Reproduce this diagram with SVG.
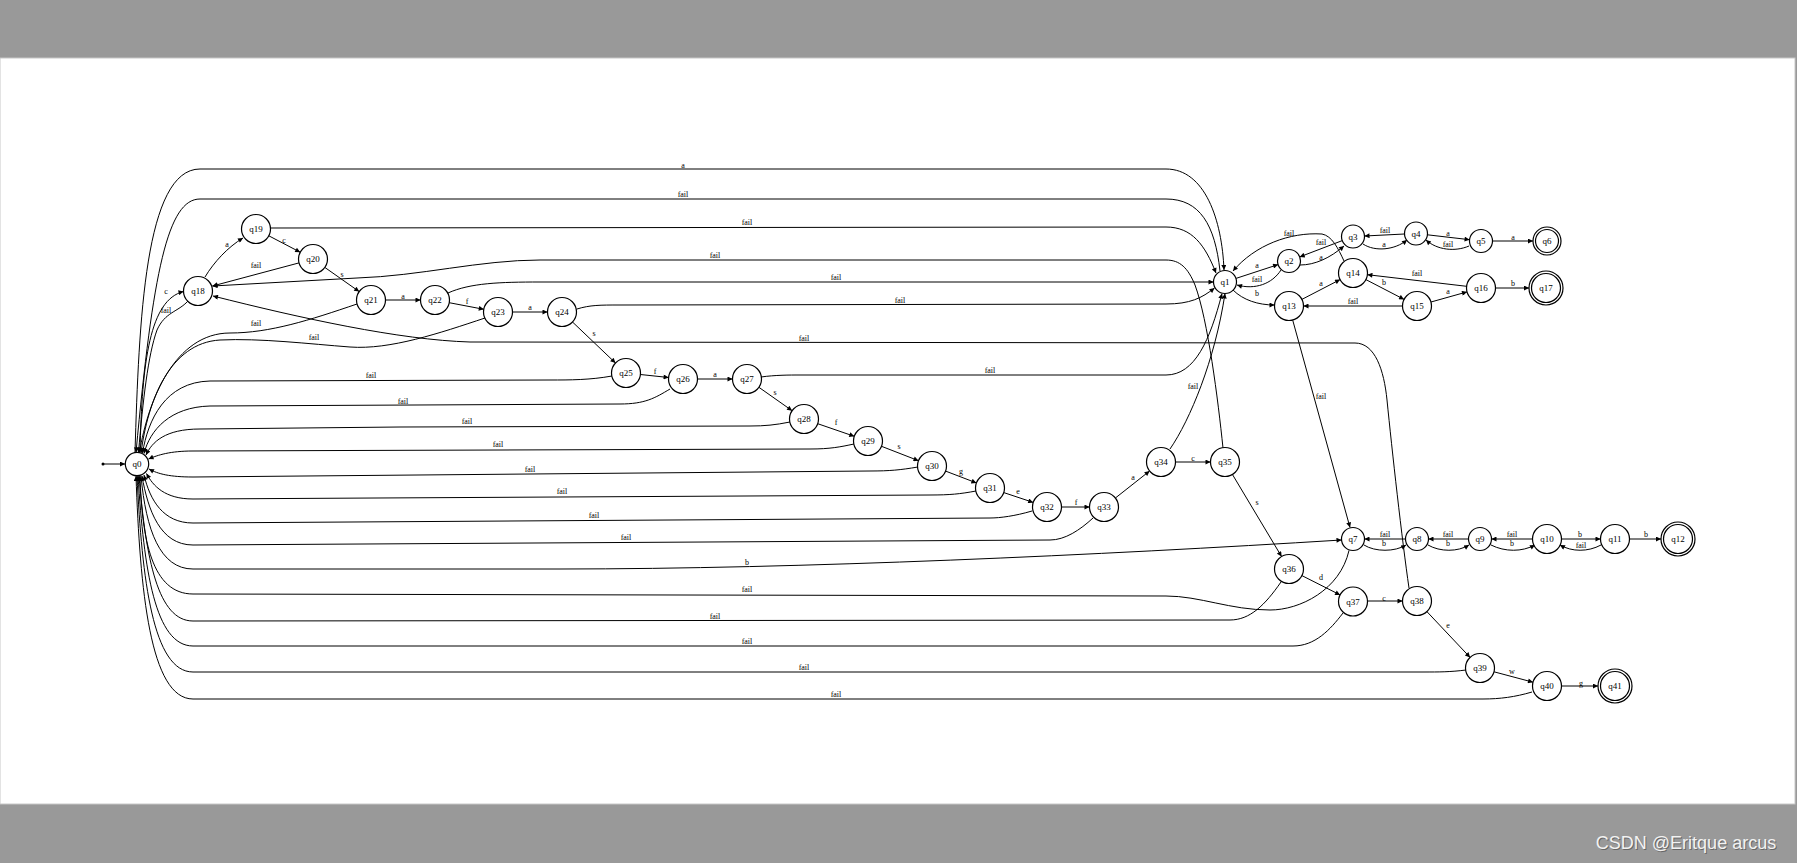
<svg xmlns="http://www.w3.org/2000/svg" width="1797" height="863" viewBox="0 0 1797 863">
<style>
.n circle{fill:#fff;stroke:#000;stroke-width:1.2}
.n text{font-family:"Liberation Serif",serif;font-size:9px;text-anchor:middle;fill:#000}
#edges path,#edges line{fill:none;stroke:#000;stroke-width:1;marker-end:url(#ah)}
#edges path.na{marker-end:none}
.lb text{font-family:"Liberation Serif",serif;font-size:8px;text-anchor:middle;fill:#000}
</style>
<defs>
<marker id="ah" viewBox="0 0 10 10" refX="10" refY="5" markerWidth="7" markerHeight="5" markerUnits="userSpaceOnUse" orient="auto"><path d="M0,0 L10,5 L0,10 z" fill="#000"/></marker>
</defs>
<rect x="0" y="0" width="1797" height="863" fill="#999"/>
<rect x="0" y="58" width="1795" height="746" fill="#fff" stroke="#c8c8c8" stroke-width="1"/>
<text x="1687" y="850" font-family="Liberation Sans,Arial,sans-serif" font-size="18" fill="#666" text-anchor="middle">CSDN @Eritque arcus</text>
<text x="1686" y="849" font-family="Liberation Sans,Arial,sans-serif" font-size="18" fill="#f2f2f2" text-anchor="middle">CSDN @Eritque arcus</text>

<g id="edges">
<circle cx="103" cy="464" r="1.5" fill="#000"/>
<line x1="103" y1="464" x2="125" y2="464"/>
<!-- q0 a q1 -->
<path d="M135 452.5 C139 320 145 169 200 169 L1166 169 C1205 169 1222 220 1224 270"/>
<!-- q1 fail q0 -->
<path d="M1220 271 C1215 225 1200 199 1166 199 L200 199 C168 199 153 270 136 452.5"/>
<!-- q19 fail q1 -->
<path d="M270 228 L1166 227 C1192 227 1205 245 1216 273"/>
<!-- q35 fail q18 -->
<path d="M1223 448 C1218 400 1208 320 1195 285 C1188 268 1180 260 1166 260 L540 260 C480 260 420 276 357 278 L212.5 286"/>
<!-- q22 fail q1 -->
<path d="M448 293 C470 283 500 282 540 282 L1213.5 282"/>
<!-- q24 fail q1 -->
<path d="M577 309 C590 305 600 305 620 305 L1166 304 C1190 304 1202 298 1214.5 288"/>
<!-- q38 fail q18 -->
<path d="M1409 588 C1402 540 1392 450 1387 400 C1384 370 1375 343 1355 343 L470 342 C400 340 300 318 213 296"/>
<!-- q27 fail q1 -->
<path d="M761 377 C775 375 790 375 800 375 L1166 375 C1195 375 1210 340 1222 293.5"/>
<!-- q34 fail q1 -->
<path d="M1170 449 C1190 420 1215 360 1225 293.5"/>
<!-- q13 fail q7 -->
<path d="M1292.8 320.5 L1350 527.5"/>
<!-- q0 c q18 -->
<path d="M140 452.5 C142 360 150 300 183.5 291.5"/>
<!-- q18 fail q0 -->
<path d="M188 301 C178 312 165 312 157 330 C148 355 143 400 138.5 452.5"/>
<!-- chain q18.. -->
<path d="M205 277 C214 262 228 247 243 238"/>
<path d="M268.8 235.8 L300.2 252.2"/>
<path d="M299 262.9 L212.5 286"/>
<path d="M324.8 267.4 L359.2 291.6"/>
<path d="M385.5 300 L420.5 300"/>
<path d="M449.2 302.7 L483.8 309.3"/>
<path d="M512.5 312 L547.5 312"/>
<path d="M572.5 322 L615.5 363"/>
<path d="M640.4 374.5 L668.6 377.5"/>
<path d="M697.5 379 L732.5 379"/>
<path d="M758.9 387.3 L792.1 410.7"/>
<path d="M817.7 423.7 L854.3 436.3"/>
<path d="M881.5 446.3 L918.5 460.7"/>
<path d="M945.6 471.1 L976.4 482.9"/>
<path d="M1003.8 492.6 L1033.2 502.4"/>
<path d="M1061.5 507 L1089.5 507"/>
<path d="M1115.4 498 L1149.6 471"/>
<path d="M1175.5 462 L1210.5 462"/>
<path d="M1232.4 474.4 L1281.6 556.6"/>
<path d="M1301.9 575.6 L1340.1 594.9"/>
<path d="M1367.5 601 L1402.5 601"/>
<path d="M1426.9 611.6 L1470.1 657.4"/>
<path d="M1494 671.8 L1533 682.2"/>
<path d="M1561.5 686 L1598 686"/>
<!-- fails to q0 from chain -->
<path d="M357 304 C310 320 270 333 230 333 C175 333 148 400 139.5 452.5"/>
<path d="M485 318 C440 333 390 350 350 347 C310 344 260 338 220 340 C170 343 148 400 141 453"/>
<path d="M612 376 C590 380 570 380 550 380 L210 381 C165 382 148 420 142.5 453"/>
<path d="M670 389 C655 398 645 404 620 404 L210 406 C170 407 150 430 144 453.5"/>
<path d="M790 422 C775 425 765 426 750 426 L400 427 L200 429 C165 429 152 442 146 455"/>
<path d="M854 444 C840 447 830 449 810 449 L193 451 C170 451 158 455 148.5 459"/>
<path d="M918 467 C900 470 890 471 870 471 L193 477 C170 477 158 474 149 469"/>
<path d="M976 491 C960 494 950 495 930 495 L193 499 C165 499 153 486 146.5 473.5"/>
<path d="M1032 511 C1015 516 1000 518 990 518 L193 523 C163 523 150 500 144 475"/>
<path d="M1093 518 C1080 530 1065 540 1050 540 L193 545 C160 545 148 510 142 476"/>
<!-- q0 b q7 -->
<path d="M141 476 C146 530 160 569 193 569 L560 569 C800 569 1100 555 1341.5 540"/>
<!-- q7 fail q0 -->
<path d="M1349 550.5 C1340 590 1300 610 1270 610 C1230 610 1200 596 1166 596 L193 594 C152 594 142 540 140 476"/>
<path d="M1281 582 C1265 605 1250 620 1230 620 L193 621 C158 621 146 560 139 476"/>
<path d="M1343 613 C1330 630 1315 646 1293 646 L193 646 C155 646 144 570 138 476"/>
<path d="M1466 670 C1450 672 1440 672 1423 672 L193 672 C153 672 142 580 137 476"/>
<path d="M1532 692 C1515 697 1500 699 1483 699 L193 699 C150 699 140 590 136 476"/>
<!-- q1 group -->
<path d="M1236 278.4 L1278.1 264.6"/>
<path d="M1281 270 C1272 284 1255 290 1237 285"/>
<path d="M1300 265 C1315 265 1330 258 1344 246"/>
<path d="M1342.3 240.6 L1299.7 256.9"/>
<path d="M1363 244 C1375 252 1395 250 1407 240"/>
<path d="M1404.5 234 L1364.5 236"/>
<path d="M1427.4 234.8 L1469.6 239.7"/>
<path d="M1469 246 C1455 252 1437 250 1426 240"/>
<path d="M1492.5 241 L1533 241"/>
<path d="M1344 261 C1338 248 1332 236 1322 234 C1290 232 1255 245 1233 271"/>
<path d="M1233 290 C1243 300 1258 305 1274.5 305"/>
<path d="M1301.9 299.4 L1340.1 279.6"/>
<path d="M1365.9 279.6 L1404.1 299.4"/>
<path d="M1402.5 306 L1303.5 306"/>
<path d="M1431 302 L1467 291.9"/>
<path d="M1466.6 286.3 L1367.4 274.7"/>
<path d="M1495.5 288 L1529 288"/>
<!-- q7 group -->
<path d="M1364 545 C1375 552 1395 552 1406 545"/>
<path d="M1405.5 539 L1364.5 539"/>
<path d="M1428 545 C1440 552 1458 552 1469 545"/>
<path d="M1468.5 539 L1428.5 539"/>
<path d="M1491 545 C1505 552 1522 552 1535 545"/>
<path d="M1532.5 539 L1491.5 539"/>
<path d="M1561.5 539 L1600.5 539"/>
<path d="M1601 545 C1588 552 1572 552 1560 545"/>
<path d="M1629.5 539 L1661 539"/>
</g>

<g class="lb">
<text x="683" y="168">a</text>
<text x="683" y="197">fail</text>
<text x="747" y="225">fail</text>
<text x="715" y="258">fail</text>
<text x="836" y="280">fail</text>
<text x="900" y="303">fail</text>
<text x="804" y="341">fail</text>
<text x="990" y="373">fail</text>
<text x="1193" y="389">fail</text>
<text x="1321" y="399">fail</text>
<text x="166" y="294">c</text>
<text x="166" y="313">fail</text>
<text x="227" y="247">a</text>
<text x="284" y="243">c</text>
<text x="256" y="268">fail</text>
<text x="342" y="277">s</text>
<text x="403" y="299">a</text>
<text x="467" y="304">f</text>
<text x="530" y="310">a</text>
<text x="256" y="326">fail</text>
<text x="314" y="340">fail</text>
<text x="371" y="378">fail</text>
<text x="403" y="404">fail</text>
<text x="594" y="336">s</text>
<text x="655" y="374">f</text>
<text x="715" y="377">a</text>
<text x="775" y="395">s</text>
<text x="836" y="425">f</text>
<text x="899" y="449">s</text>
<text x="961" y="474">g</text>
<text x="1018" y="494">e</text>
<text x="1076" y="505">f</text>
<text x="1133" y="480">a</text>
<text x="1193" y="461">c</text>
<text x="1257" y="505">s</text>
<text x="1321" y="580">d</text>
<text x="1384" y="601">c</text>
<text x="1448" y="628">e</text>
<text x="1512" y="674">w</text>
<text x="1581" y="686">g</text>
<text x="467" y="424">fail</text>
<text x="498" y="447">fail</text>
<text x="530" y="472">fail</text>
<text x="562" y="494">fail</text>
<text x="594" y="518">fail</text>
<text x="626" y="540">fail</text>
<text x="747" y="565">b</text>
<text x="747" y="592">fail</text>
<text x="715" y="619">fail</text>
<text x="747" y="644">fail</text>
<text x="804" y="670">fail</text>
<text x="836" y="697">fail</text>
<text x="1257" y="268">a</text>
<text x="1257" y="282">fail</text>
<text x="1321" y="260">a</text>
<text x="1321" y="245">fail</text>
<text x="1384" y="247">a</text>
<text x="1385" y="233">fail</text>
<text x="1448" y="236">a</text>
<text x="1448" y="247">fail</text>
<text x="1513" y="240">a</text>
<text x="1289" y="236">fail</text>
<text x="1257" y="296">b</text>
<text x="1321" y="286">a</text>
<text x="1384" y="285">b</text>
<text x="1353" y="304">fail</text>
<text x="1448" y="294">a</text>
<text x="1417" y="276">fail</text>
<text x="1513" y="286">b</text>
<text x="1384" y="546">b</text>
<text x="1385" y="537">fail</text>
<text x="1448" y="546">b</text>
<text x="1448" y="537">fail</text>
<text x="1512" y="546">b</text>
<text x="1512" y="537">fail</text>
<text x="1580" y="537">b</text>
<text x="1581" y="548">fail</text>
<text x="1646" y="537">b</text>
</g>

<g id="q0" class="n"><circle cx="137" cy="464" r="11.7"/><text x="137" y="467">q0</text></g>
<g id="q1" class="n"><circle cx="1225" cy="282" r="11.5"/><text x="1225" y="285">q1</text></g>
<g id="q2" class="n"><circle cx="1289" cy="261" r="11.5"/><text x="1289" y="264">q2</text></g>
<g id="q3" class="n"><circle cx="1353" cy="236.5" r="11.5"/><text x="1353" y="239.5">q3</text></g>
<g id="q4" class="n"><circle cx="1416" cy="233.5" r="11.5"/><text x="1416" y="236.5">q4</text></g>
<g id="q5" class="n"><circle cx="1481" cy="241" r="11.5"/><text x="1481" y="244">q5</text></g>
<g id="q6" class="n"><circle cx="1547" cy="241" r="14"/><circle cx="1547" cy="241" r="11.5"/><text x="1547" y="244">q6</text></g>
<g id="q7" class="n"><circle cx="1353" cy="539" r="11.5"/><text x="1353" y="542">q7</text></g>
<g id="q8" class="n"><circle cx="1417" cy="539" r="11.5"/><text x="1417" y="542">q8</text></g>
<g id="q9" class="n"><circle cx="1480" cy="539" r="11.5"/><text x="1480" y="542">q9</text></g>
<g id="q10" class="n"><circle cx="1547" cy="539" r="14.5"/><text x="1547" y="542">q10</text></g>
<g id="q11" class="n"><circle cx="1615" cy="539" r="14.5"/><text x="1615" y="542">q11</text></g>
<g id="q12" class="n"><circle cx="1678" cy="539" r="17"/><circle cx="1678" cy="539" r="14.5"/><text x="1678" y="542">q12</text></g>
<g id="q13" class="n"><circle cx="1289" cy="306" r="14.5"/><text x="1289" y="309">q13</text></g>
<g id="q14" class="n"><circle cx="1353" cy="273" r="14.5"/><text x="1353" y="276">q14</text></g>
<g id="q15" class="n"><circle cx="1417" cy="306" r="14.5"/><text x="1417" y="309">q15</text></g>
<g id="q16" class="n"><circle cx="1481" cy="288" r="14.5"/><text x="1481" y="291">q16</text></g>
<g id="q17" class="n"><circle cx="1546" cy="288" r="17"/><circle cx="1546" cy="288" r="14.5"/><text x="1546" y="291">q17</text></g>
<g id="q18" class="n"><circle cx="198" cy="291" r="14.5"/><text x="198" y="294">q18</text></g>
<g id="q19" class="n"><circle cx="256" cy="229" r="14.5"/><text x="256" y="232">q19</text></g>
<g id="q20" class="n"><circle cx="313" cy="259" r="14.5"/><text x="313" y="262">q20</text></g>
<g id="q21" class="n"><circle cx="371" cy="300" r="14.5"/><text x="371" y="303">q21</text></g>
<g id="q22" class="n"><circle cx="435" cy="300" r="14.5"/><text x="435" y="303">q22</text></g>
<g id="q23" class="n"><circle cx="498" cy="312" r="14.5"/><text x="498" y="315">q23</text></g>
<g id="q24" class="n"><circle cx="562" cy="312" r="14.5"/><text x="562" y="315">q24</text></g>
<g id="q25" class="n"><circle cx="626" cy="373" r="14.5"/><text x="626" y="376">q25</text></g>
<g id="q26" class="n"><circle cx="683" cy="379" r="14.5"/><text x="683" y="382">q26</text></g>
<g id="q27" class="n"><circle cx="747" cy="379" r="14.5"/><text x="747" y="382">q27</text></g>
<g id="q28" class="n"><circle cx="804" cy="419" r="14.5"/><text x="804" y="422">q28</text></g>
<g id="q29" class="n"><circle cx="868" cy="441" r="14.5"/><text x="868" y="444">q29</text></g>
<g id="q30" class="n"><circle cx="932" cy="466" r="14.5"/><text x="932" y="469">q30</text></g>
<g id="q31" class="n"><circle cx="990" cy="488" r="14.5"/><text x="990" y="491">q31</text></g>
<g id="q32" class="n"><circle cx="1047" cy="507" r="14.5"/><text x="1047" y="510">q32</text></g>
<g id="q33" class="n"><circle cx="1104" cy="507" r="14.5"/><text x="1104" y="510">q33</text></g>
<g id="q34" class="n"><circle cx="1161" cy="462" r="14.5"/><text x="1161" y="465">q34</text></g>
<g id="q35" class="n"><circle cx="1225" cy="462" r="14.5"/><text x="1225" y="465">q35</text></g>
<g id="q36" class="n"><circle cx="1289" cy="569" r="14.5"/><text x="1289" y="572">q36</text></g>
<g id="q37" class="n"><circle cx="1353" cy="601.5" r="14.5"/><text x="1353" y="604.5">q37</text></g>
<g id="q38" class="n"><circle cx="1417" cy="601" r="14.5"/><text x="1417" y="604">q38</text></g>
<g id="q39" class="n"><circle cx="1480" cy="668" r="14.5"/><text x="1480" y="671">q39</text></g>
<g id="q40" class="n"><circle cx="1547" cy="686" r="14.5"/><text x="1547" y="689">q40</text></g>
<g id="q41" class="n"><circle cx="1615" cy="686" r="17"/><circle cx="1615" cy="686" r="14.5"/><text x="1615" y="689">q41</text></g>
</svg>
